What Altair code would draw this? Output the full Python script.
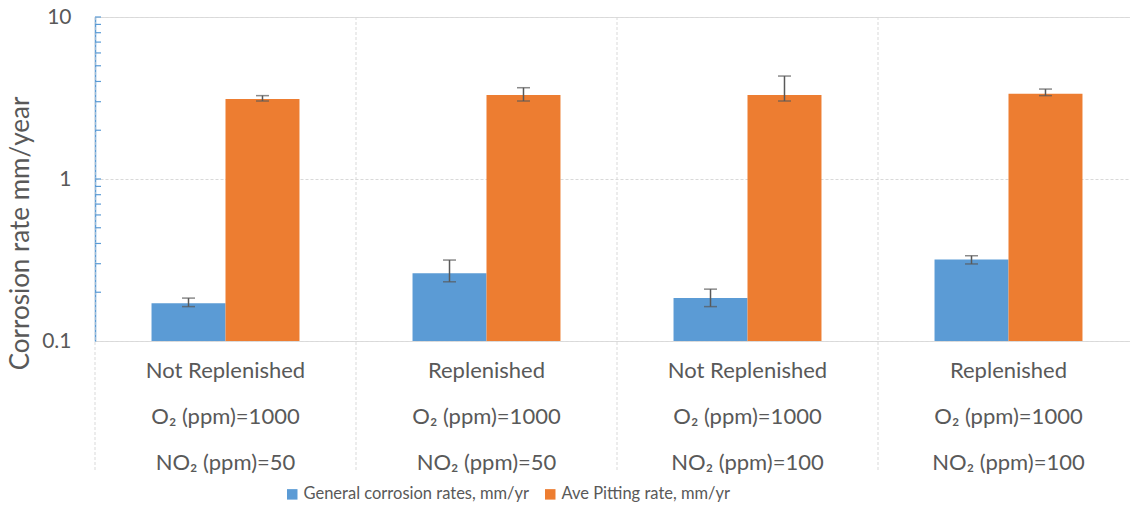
import altair as alt
import pandas as pd

# ---- data ----
line1 = ["Not Replenished", "Replenished", "Not Replenished", "Replenished"]
line2 = ["O₂ (ppm)=1000", "O₂ (ppm)=1000", "O₂ (ppm)=1000", "O₂ (ppm)=1000"]
line3 = ["NO₂ (ppm)=50", "NO₂ (ppm)=50", "NO₂ (ppm)=100", "NO₂ (ppm)=100"]

series = ["General corrosion rates, mm/yr", "Ave Pitting rate, mm/yr"]

general = [0.171, 0.262, 0.184, 0.319]
general_lo = [0.163, 0.232, 0.163, 0.299]
general_hi = [0.184, 0.316, 0.209, 0.336]

pitting = [3.12, 3.30, 3.30, 3.36]
pitting_lo = [3.03, 3.03, 3.03, 3.27]
pitting_hi = [3.27, 3.66, 4.32, 3.59]

y_ticks = [0.1, 1, 10]
minor_ticks = [0.2, 0.3, 0.4, 0.5, 0.6, 0.7, 0.8, 0.9, 1,
               2, 3, 4, 5, 6, 7, 8, 9, 10]

BLUE = "#5B9BD5"
ORANGE = "#ED7D31"
GREY = "#595959"
GRID = "#D9D9D9"
FONT = "Lato"
YTITLE = "Corrosion rate mm/year"

groups = ["|".join(t) for t in zip(line1, line2, line3)]

rows = []
for i, g in enumerate(groups):
    rows.append(dict(group=g, series=series[0], value=general[i], lo=general_lo[i], hi=general_hi[i]))
    rows.append(dict(group=g, series=series[1], value=pitting[i], lo=pitting_lo[i], hi=pitting_hi[i]))
df = pd.DataFrame(rows)
df_groups = pd.DataFrame({"group": groups})
df_ticks = pd.DataFrame({"value": minor_ticks})

xscale = alt.Scale(domain=groups, paddingInner=0, paddingOuter=0)
yscale = alt.Scale(type="log", domain=[0.1, 10])
offscale = alt.Scale(domain=series, paddingInner=0, paddingOuter=0.764)

xaxis = alt.Axis(
    title=None, labelExpr="split(datum.label, '|')", ticks=False, domain=False,
    grid=False, labelAngle=0, labelFontSize=22, labelColor=GREY, labelFont=FONT,
    labelLineHeight=46, labelPadding=19, labelLimit=400,
)
yaxis = alt.Axis(
    values=y_ticks, format="~g", title=YTITLE, ticks=False,
    domainColor=BLUE, domainWidth=1.5, labelFontSize=21, labelColor=GREY,
    labelFont=FONT, labelPadding=24, grid=True, gridColor=GRID,
    gridDash=[3, 2], gridWidth=1, titleFontSize=26, titleFont=FONT,
    titleFontWeight="normal", titleColor=GREY, titleX=-62, titleY=216,
)

X = alt.X("group:N", sort=groups, scale=xscale, axis=xaxis)
XO = alt.XOffset("series:N", sort=series, scale=offscale)

bars = alt.Chart(df).mark_bar().encode(
    x=X,
    xOffset=XO,
    y=alt.Y("value:Q", scale=yscale, axis=yaxis, title=YTITLE),
    y2=alt.datum(0.1),
    color=alt.Color(
        "series:N", sort=series,
        scale=alt.Scale(domain=series, range=[BLUE, ORANGE]),
        legend=alt.Legend(
            title=None, orient="none", direction="horizontal", legendX=189,
            legendY=469, symbolType="square", symbolSize=110,
            symbolStrokeWidth=0, labelFontSize=16.5, labelFont=FONT,
            labelColor=GREY, columnPadding=12, symbolOffset=0,
            labelOffset=3, labelLimit=400,
        ),
    ),
)

err = alt.Chart(df).mark_rule(color=GREY, strokeWidth=1.5).encode(
    x=X, xOffset=XO,
    y=alt.Y("lo:Q", scale=yscale, title=YTITLE),
    y2="hi:Q",
)
cap_lo = alt.Chart(df).mark_tick(color=GREY, thickness=1.5, size=13).encode(
    x=X, xOffset=XO, y=alt.Y("lo:Q", scale=yscale, title=YTITLE),
)
cap_hi = alt.Chart(df).mark_tick(color=GREY, thickness=1.5, size=13).encode(
    x=X, xOffset=XO, y=alt.Y("hi:Q", scale=yscale, title=YTITLE),
)

dividers = alt.Chart(df_groups).mark_rule(color=GRID, strokeDash=[3, 2], strokeWidth=1).encode(
    x=alt.X("group:N", sort=groups, scale=xscale, axis=xaxis, bandPosition=0),
    y=alt.value(0),
    y2=alt.value(455),
)

ticks = alt.Chart(df_ticks).mark_rule(color=BLUE, strokeWidth=1.2).encode(
    y=alt.Y("value:Q", scale=yscale, title=YTITLE),
    x=alt.value(0),
    x2=alt.value(6),
)

chart = alt.layer(dividers, bars, err, cap_lo, cap_hi, ticks).properties(
    width=1044, height=324,
    autosize=alt.AutoSizeParams(type="none"),
    padding={"left": 95, "top": 17, "right": -9, "bottom": 176},
).configure_view(stroke=None).configure(font=FONT)

chart.save("out.html", embed_options={"renderer": "svg", "actions": False})
